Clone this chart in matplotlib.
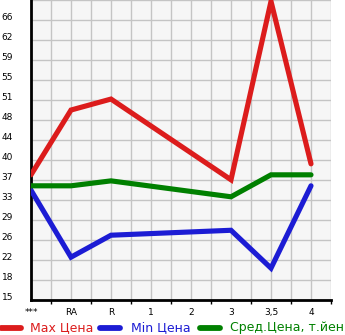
import matplotlib
matplotlib.use("Agg")
import matplotlib.pyplot as plt
from matplotlib.lines import Line2D

categories = ["***", "RA", "R", "1", "2", "3", "3,5", "4"]
max_price = [37.8, 49.6, 51.6, None, None, 36.9, 69.4, 39.8]
min_price = [35.0, 22.8, 26.8, None, None, 27.7, 20.8, 35.8]
avg_price = [35.8, 35.8, 36.7, None, None, 33.8, 37.8, 37.8]
ytick_labels = ["15", "18", "22", "26", "29", "33", "37", "40", "44", "48",
                "51", "55", "59", "62", "66"]
y_min, y_max = 15.0, 66.0
legend_labels = ["Max Цена", "Min Цена", "Сред.Цена, т.йен"]

RED, BLUE, GREEN = "#dc1c1c", "#1c1cd4", "#008000"

W, H = 345, 335
fig = plt.figure(figsize=(W / 100, H / 100), dpi=100)
ax = fig.add_axes([31 / W, 35 / H, 300 / W, 300 / H])
ax.set_facecolor("#f6f6f6")

step = (y_max - y_min) / (len(ytick_labels) - 1)
ax.set_ylim(y_min, y_min + step * 15)
ax.set_xlim(0, len(categories) - 0.5)

# grid every half category and every y step
for i in range(1, 2 * len(categories)):
    ax.axvline(i * 0.5, color="#c4c4c4", lw=1.0, zorder=0)
for k in range(1, 16):
    ax.axhline(y_min + k * step, color="#c4c4c4", lw=1.0, zorder=0)

def plot_series(vals, color):
    xs = [i for i, v in enumerate(vals) if v is not None]
    ys = [v for v in vals if v is not None]
    ax.plot(xs, ys, color=color, lw=3.7, solid_capstyle="round",
            solid_joinstyle="miter", zorder=3, clip_on=True)

plot_series(max_price, RED)
plot_series(min_price, BLUE)
plot_series(avg_price, GREEN)

ax.set_yticks([y_min + k * step for k in range(len(ytick_labels))])
ax.set_yticklabels(ytick_labels, fontsize=6.5)
for lab in ax.get_yticklabels():
    lab.set_verticalalignment("baseline")
    lab.set_horizontalalignment("left")
ax.tick_params(axis="y", length=0, pad=21.2)

ax.set_xticks(range(len(categories)))
ax.set_xticklabels(categories, fontsize=6.5)
ax.tick_params(axis="x", length=0, pad=6)
ax.set_xticks([i + 0.5 for i in range(len(categories))], minor=True)
ax.tick_params(axis="x", which="minor", length=3, width=1, color="black",
               direction="out")

for s in ["top", "right"]:
    ax.spines[s].set_visible(False)
for s in ["left", "bottom"]:
    ax.spines[s].set_linewidth(2)
    ax.spines[s].set_color("black")

# legend (manual)
ly = 1 - 328 / H
items = [(0, 30, RED), (99, 131, BLUE), (199, 230, GREEN)]
for (x0, tx, c), lab in zip(items, legend_labels):
    fig.add_artist(Line2D([(x0 + 1) / W, (x0 + 21) / W], [ly, ly], color=c,
                          lw=4.2, solid_capstyle="round",
                          transform=fig.transFigure))
    fig.text(tx / W, ly, lab, color=c, fontsize=9, va="center", ha="left")

fig.savefig("out.png", dpi=100)
